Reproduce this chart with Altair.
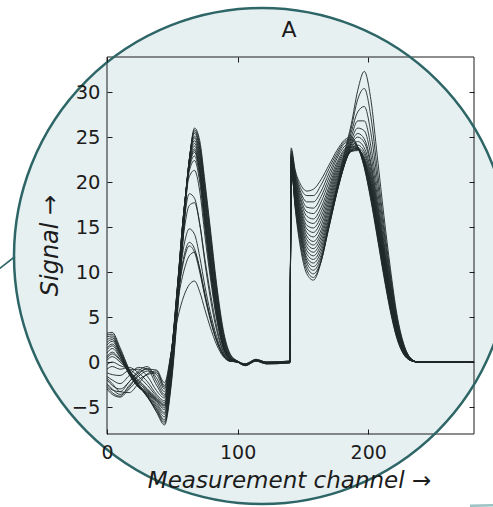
import altair as alt
import pandas as pd

# ---------------- data ----------------
S1_CH = [0, 4, 10, 17, 24, 31, 38, 44, 49, 54, 59, 63, 67, 71, 75, 79, 84, 89, 94, 100, 106, 114, 122, 140]
S1 = [
    [3.2, 3.3, 1.6, -0.8, -2.4, -3.8, -5.6, -7.0, -2.8, 5.5, 15.0, 22.2, 26.0, 24.6, 20.0, 15.0, 8.6, 3.6, 1.0, 0.1, -0.3, 0.2, -0.1, 0.0],
    [3.0, 3.1, 1.4, -0.9, -2.5, -3.9, -5.5, -6.8, -2.5, 5.8, 15.3, 22.3, 25.8, 24.2, 19.6, 14.5, 8.2, 3.3, 0.9, 0.0, -0.4, 0.1, -0.2, -0.1],
    [2.8, 2.9, 1.2, -1.0, -2.6, -3.9, -5.3, -6.6, -2.2, 6.1, 15.6, 22.4, 25.6, 23.9, 19.2, 14.1, 7.9, 3.1, 0.8, 0.1, -0.2, 0.3, 0.0, 0.1],
    [2.5, 2.7, 1.1, -1.1, -2.6, -3.8, -5.2, -6.4, -1.9, 6.4, 15.8, 22.5, 25.4, 23.6, 18.8, 13.7, 7.6, 2.9, 0.7, 0.0, -0.3, 0.2, -0.1, 0.0],
    [2.2, 2.5, 1.0, -1.2, -2.7, -3.7, -5.0, -6.1, -1.6, 6.8, 16.1, 22.5, 25.1, 23.2, 18.3, 13.2, 7.2, 2.7, 0.6, 0.0, -0.4, 0.2, -0.2, -0.1],
    [1.9, 2.3, 0.9, -1.2, -2.7, -3.6, -4.8, -5.8, -1.3, 7.1, 16.3, 22.5, 24.9, 22.9, 17.9, 12.8, 6.9, 2.5, 0.6, 0.1, -0.3, 0.1, -0.1, 0.0],
    [1.6, 2.0, 0.8, -1.3, -2.8, -3.5, -4.6, -5.6, -1.0, 7.4, 16.5, 22.4, 24.6, 22.5, 17.5, 12.4, 6.6, 2.3, 0.5, 0.0, -0.2, 0.2, 0.0, 0.1],
    [1.4, 1.8, 0.6, -1.4, -2.8, -3.4, -4.4, -5.3, -0.8, 7.7, 16.7, 22.3, 24.3, 22.1, 17.0, 12.0, 6.3, 2.2, 0.5, 0.0, -0.3, 0.2, -0.1, 0.0],
    [1.0, 1.5, 0.5, -1.3, -2.6, -3.3, -4.3, -5.1, -0.6, 7.9, 16.8, 22.1, 24.0, 21.8, 16.6, 11.6, 6.0, 2.0, 0.4, 0.0, -0.4, 0.1, -0.2, -0.1],
    [0.6, 1.1, 0.3, -1.1, -2.3, -3.2, -4.2, -4.9, -0.4, 8.1, 16.9, 21.9, 23.7, 21.4, 16.2, 11.2, 5.8, 1.9, 0.4, 0.1, -0.3, 0.2, -0.1, 0.0],
    [0.4, 0.9, 0.2, -1.0, -2.1, -3.1, -4.1, -4.8, -0.3, 8.2, 16.9, 21.8, 23.5, 21.2, 16.0, 11.0, 5.6, 1.8, 0.4, 0.0, -0.3, 0.2, -0.1, 0.0],
    [0.2, 0.6, 0.0, -1.0, -2.0, -3.0, -4.0, -4.7, -0.2, 8.3, 17.0, 21.7, 23.3, 21.0, 15.8, 10.8, 5.5, 1.8, 0.4, 0.0, -0.2, 0.3, 0.0, 0.1],
    [-0.3, 0.0, -0.4, -0.8, -1.6, -2.6, -3.8, -4.5, 0.0, 8.4, 17.0, 21.5, 22.9, 20.5, 15.3, 10.4, 5.2, 1.7, 0.3, 0.0, -0.3, 0.2, -0.1, 0.0],
    [-0.8, -0.5, -0.8, -0.6, -1.2, -2.2, -3.6, -4.3, 0.2, 8.5, 17.0, 21.2, 22.4, 20.0, 14.8, 10.0, 5.0, 1.6, 0.3, 0.0, -0.3, 0.2, -0.1, 0.0],
    [-1.2, -1.4, -1.5, -0.9, -0.8, -1.6, -3.2, -4.0, 0.5, 8.6, 16.8, 20.6, 21.3, 19.0, 14.0, 9.5, 4.7, 1.5, 0.3, 0.0, -0.3, 0.2, -0.1, 0.0],
    [-1.6, -2.0, -2.4, -1.5, -0.6, -0.8, -2.6, -3.8, 0.6, 8.4, 15.6, 18.7, 18.2, 15.4, 11.4, 7.8, 3.9, 1.2, 0.2, 0.0, -0.3, 0.2, -0.1, 0.0],
    [-2.0, -2.6, -3.0, -2.2, -1.0, -0.5, -2.2, -3.6, 0.5, 8.0, 14.6, 17.4, 17.7, 15.3, 11.0, 7.2, 3.5, 1.1, 0.2, 0.0, -0.3, 0.2, -0.1, 0.0],
    [-2.4, -3.0, -3.6, -2.8, -1.4, -0.7, -1.8, -3.3, 0.6, 7.6, 13.0, 14.8, 14.2, 11.7, 8.4, 5.6, 2.8, 0.9, 0.2, 0.0, -0.3, 0.2, -0.1, 0.0],
    [-2.8, -3.4, -3.8, -2.6, -1.6, -1.0, -1.4, -3.0, 0.8, 7.2, 11.8, 13.3, 12.6, 10.3, 7.4, 4.9, 2.4, 0.8, 0.1, 0.0, -0.3, 0.2, -0.1, 0.0],
    [-1.8, -2.4, -3.3, -3.4, -2.4, -1.3, -1.0, -2.8, 0.9, 7.0, 11.4, 12.9, 12.2, 10.0, 7.2, 4.7, 2.3, 0.7, 0.1, 0.0, -0.3, 0.2, -0.1, 0.0],
    [-3.0, -3.6, -3.9, -3.0, -2.0, -1.4, -1.2, -2.6, 0.9, 6.6, 10.2, 11.8, 12.2, 10.4, 7.6, 5.0, 2.4, 0.8, 0.1, 0.0, -0.3, 0.2, -0.1, 0.0],
    [-2.6, -3.1, -3.3, -2.2, -1.2, -0.8, -0.9, -2.3, 0.9, 4.8, 7.4, 8.6, 9.0, 7.8, 5.8, 3.9, 1.9, 0.6, 0.1, 0.0, -0.3, 0.2, -0.1, 0.0],
]

S2_CH = [141, 144, 148, 153, 158, 164, 170, 176, 182, 187, 192, 197, 202, 207, 212, 217, 222, 227, 232, 238, 250, 281]
S2 = [
    [23.8, 21.4, 19.8, 19.0, 19.2, 20.3, 21.9, 23.5, 24.7, 25.0, 23.9, 21.6, 18.0, 13.8, 9.5, 5.6, 2.6, 0.9, 0.2, 0.0, 0.0, 0.0],
    [23.5, 21.2, 19.4, 18.5, 18.5, 19.7, 21.5, 23.2, 24.5, 24.8, 23.9, 21.7, 18.2, 14.0, 9.7, 5.8, 2.7, 0.9, 0.2, 0.0, 0.0, 0.0],
    [23.2, 21.0, 19.0, 17.8, 17.8, 19.0, 21.0, 22.9, 24.3, 24.6, 23.9, 21.8, 18.4, 14.2, 9.9, 5.9, 2.8, 1.0, 0.2, 0.0, 0.0, 0.0],
    [23.0, 20.8, 18.7, 17.2, 17.1, 18.4, 20.5, 22.6, 24.0, 24.4, 23.9, 21.9, 18.6, 14.4, 10.1, 6.1, 2.9, 1.0, 0.2, 0.0, 0.0, 0.0],
    [22.8, 20.6, 18.3, 16.7, 16.5, 17.8, 20.0, 22.2, 23.7, 24.2, 23.8, 22.0, 18.8, 14.6, 10.3, 6.2, 3.0, 1.1, 0.3, 0.0, 0.0, 0.0],
    [22.6, 20.4, 18.0, 16.2, 15.9, 17.2, 19.5, 21.9, 23.5, 24.0, 23.8, 22.1, 19.0, 14.8, 10.5, 6.4, 3.1, 1.1, 0.3, 0.0, 0.0, 0.0],
    [22.5, 20.2, 17.6, 15.7, 15.4, 16.7, 19.1, 21.6, 23.3, 23.9, 23.8, 22.2, 19.2, 15.0, 10.7, 6.5, 3.2, 1.2, 0.3, 0.0, 0.0, 0.0],
    [22.4, 20.0, 17.3, 15.2, 14.9, 16.2, 18.7, 21.3, 23.1, 23.8, 23.7, 22.3, 19.4, 15.2, 10.9, 6.7, 3.3, 1.2, 0.3, 0.0, 0.0, 0.0],
    [22.3, 19.8, 17.0, 14.8, 14.4, 15.7, 18.3, 21.0, 22.9, 23.6, 23.7, 22.4, 19.6, 15.4, 11.1, 6.9, 3.4, 1.3, 0.3, 0.0, 0.0, 0.0],
    [22.2, 19.6, 16.7, 14.4, 13.9, 15.2, 17.9, 20.7, 22.7, 23.5, 23.6, 22.5, 19.8, 15.6, 11.3, 7.0, 3.5, 1.3, 0.3, 0.0, 0.0, 0.0],
    [22.1, 19.4, 16.4, 14.0, 13.4, 14.7, 17.5, 20.4, 22.5, 23.4, 23.5, 22.6, 20.0, 15.8, 11.5, 7.2, 3.6, 1.4, 0.3, 0.0, 0.0, 0.0],
    [22.0, 19.2, 16.1, 13.6, 13.0, 14.3, 17.1, 20.1, 22.4, 23.4, 23.6, 22.8, 20.3, 16.1, 11.7, 7.4, 3.7, 1.4, 0.4, 0.0, 0.0, 0.0],
    [21.9, 19.0, 15.8, 13.2, 12.6, 13.9, 16.7, 19.8, 22.2, 23.5, 23.8, 23.1, 20.6, 16.4, 11.9, 7.6, 3.8, 1.5, 0.4, 0.0, 0.0, 0.0],
    [21.8, 18.8, 15.5, 12.8, 12.2, 13.5, 16.3, 19.5, 22.1, 23.6, 24.1, 23.4, 20.9, 16.7, 12.1, 7.8, 3.9, 1.5, 0.4, 0.0, 0.0, 0.0],
    [21.7, 18.6, 15.2, 12.4, 11.8, 13.1, 16.0, 19.3, 22.0, 23.8, 24.5, 23.8, 21.3, 17.0, 12.4, 8.0, 4.0, 1.6, 0.4, 0.0, 0.0, 0.0],
    [21.6, 18.4, 14.9, 12.0, 11.4, 12.7, 15.7, 19.1, 22.0, 24.1, 25.0, 24.4, 21.8, 17.4, 12.7, 8.2, 4.1, 1.6, 0.4, 0.0, 0.0, 0.0],
    [21.6, 18.2, 14.6, 11.6, 11.0, 12.3, 15.4, 18.9, 22.0, 24.3, 25.4, 24.8, 22.2, 17.8, 13.0, 8.4, 4.2, 1.7, 0.4, 0.0, 0.0, 0.0],
    [21.5, 18.0, 14.3, 11.3, 10.6, 11.9, 15.2, 18.8, 22.1, 24.6, 26.0, 25.7, 23.0, 18.4, 13.4, 8.7, 4.4, 1.7, 0.4, 0.0, 0.0, 0.0],
    [21.5, 17.8, 14.0, 11.0, 10.2, 11.6, 15.0, 18.8, 22.3, 25.0, 26.8, 26.8, 24.0, 19.2, 14.0, 9.1, 4.6, 1.8, 0.5, 0.0, 0.0, 0.0],
    [21.6, 17.6, 13.6, 10.6, 9.8, 11.3, 15.0, 19.0, 22.6, 25.5, 27.8, 28.4, 25.5, 20.2, 14.6, 9.4, 4.8, 1.9, 0.5, 0.0, 0.0, 0.0],
    [21.8, 17.4, 13.2, 10.2, 9.4, 11.2, 15.2, 19.2, 23.0, 26.0, 29.2, 30.4, 27.3, 21.3, 15.3, 9.8, 5.0, 2.0, 0.5, 0.0, 0.0, 0.0],
    [22.0, 17.2, 12.8, 9.8, 9.1, 11.2, 15.5, 19.5, 23.4, 26.4, 30.2, 32.3, 29.2, 22.8, 16.3, 10.4, 5.3, 2.1, 0.5, 0.0, 0.0, 0.0],
]

X_TICKS = [0, 100, 200]
Y_TICKS = [-5, 0, 5, 10, 15, 20, 25, 30]
X_DOMAIN = [0, 281]
Y_DOMAIN = [-8, 33.9]

rows = []
for k, (a, b) in enumerate(zip(S1, S2)):
    for c, v in zip(S1_CH, a):
        rows.append({"curve": k, "ch": c, "v": v})
    for c, v in zip(S2_CH, b):
        rows.append({"curve": k, "ch": c, "v": v})
df = pd.DataFrame(rows)

one = pd.DataFrame({"ch": [0], "v": [0]})

W, H = 367, 377
FONT = "DejaVu Sans"
TEAL = "#2e6667"
FILL = "#e7f0f1"
INK = "#1c1c1c"

xs = alt.Scale(domain=X_DOMAIN, nice=False, zero=False)
ys = alt.Scale(domain=Y_DOMAIN, nice=False, zero=False)

circle_size = 496 * 496
cx, cy = 155, 199

circle_fill = alt.Chart(one).mark_point(
    shape="circle", filled=True, color=FILL, opacity=1, size=circle_size, strokeWidth=0
).encode(x=alt.value(cx), y=alt.value(cy))

frame = alt.Chart(one).mark_rect(
    fillOpacity=0, stroke=INK, strokeWidth=1
).encode(x=alt.value(0), x2=alt.value(W), y=alt.value(0), y2=alt.value(H))

main_x = alt.Axis(
    values=X_TICKS, orient="bottom", title="Measurement channel →", ticks=False, tickSize=0,
    domain=False, grid=False, labelFont=FONT, labelFontSize=19, labelColor=INK,
    labelPadding=9, labelFlush=False, labelOverlap=False,
    titleFont=FONT, titleFontSize=23, titleFontStyle="italic", titleFontWeight="normal",
    titleColor=INK, titleX=182, titleY=53, titleBaseline="alphabetic", titleAlign="center",
    zindex=1,
)
main_y = alt.Axis(
    values=Y_TICKS, orient="left", title="Signal →", ticks=False, tickSize=0,
    domain=False, grid=False, labelFont=FONT, labelFontSize=19.5, labelColor=INK,
    labelPadding=7, labelFlush=False, labelOverlap=False,
    titleFont=FONT, titleFontSize=24, titleFontStyle="italic", titleFontWeight="normal",
    titleColor=INK, titleAngle=270, titleX=-50, titleY=188, titleBaseline="alphabetic",
    titleAlign="center", zindex=1,
)

lines = alt.Chart(df).mark_line(
    interpolate="monotone", strokeWidth=1.0, color="#1e2828", opacity=0.9
).encode(
    x=alt.X("ch:Q", scale=xs, axis=main_x),
    y=alt.Y("v:Q", scale=ys, axis=main_y),
    detail="curve:N",
)


def tick_axis(values, orient):
    return alt.Axis(
        values=values, orient=orient, offset=-5, ticks=True, tickSize=5, tickColor=INK,
        tickWidth=1, labels=False, domain=False, grid=False, title="", zindex=1,
    )


carrier_a = alt.Chart(one).mark_point(opacity=0).encode(
    x=alt.X("ch:Q", scale=xs, axis=tick_axis(X_TICKS, "bottom")),
    y=alt.Y("v:Q", scale=ys, axis=tick_axis(Y_TICKS, "left")),
)
carrier_b = alt.Chart(one).mark_point(opacity=0).encode(
    x=alt.X("ch:Q", scale=xs, axis=tick_axis(X_TICKS, "top")),
    y=alt.Y("v:Q", scale=ys, axis=tick_axis(Y_TICKS, "right")),
)

circle_stroke = alt.Chart(one).mark_point(
    shape="circle", filled=False, color=TEAL, opacity=1, size=circle_size, strokeWidth=2.5
).encode(x=alt.value(cx), y=alt.value(cy))

connector = alt.Chart(one).mark_rule(color=TEAL, strokeWidth=1.6).encode(
    x=alt.value(-110), x2=alt.value(-92), y=alt.value(213.5), y2=alt.value(199.5)
)

corner = alt.Chart(one).mark_rule(color="#9cc3c3", strokeWidth=2.5).encode(
    x=alt.value(363), x2=alt.value(390), y=alt.value(448.8), y2=alt.value(448.2)
)

panel_label = alt.Chart(one).mark_text(
    text="A", font=FONT, fontSize=22, align="center", baseline="alphabetic", color=INK
).encode(x=alt.value(182), y=alt.value(-20.3))

chart = alt.layer(
    circle_fill, frame, lines, carrier_a, carrier_b, circle_stroke, connector, corner, panel_label
).resolve_axis(x="independent", y="independent").properties(
    width=W, height=H,
    autosize=alt.AutoSizeParams(type="none"),
    padding={"left": 107, "top": 57, "right": 19, "bottom": 73},
    background="white",
).configure_view(strokeWidth=0)

chart.save("out.html", embed_options={"renderer": "svg", "actions": False})
